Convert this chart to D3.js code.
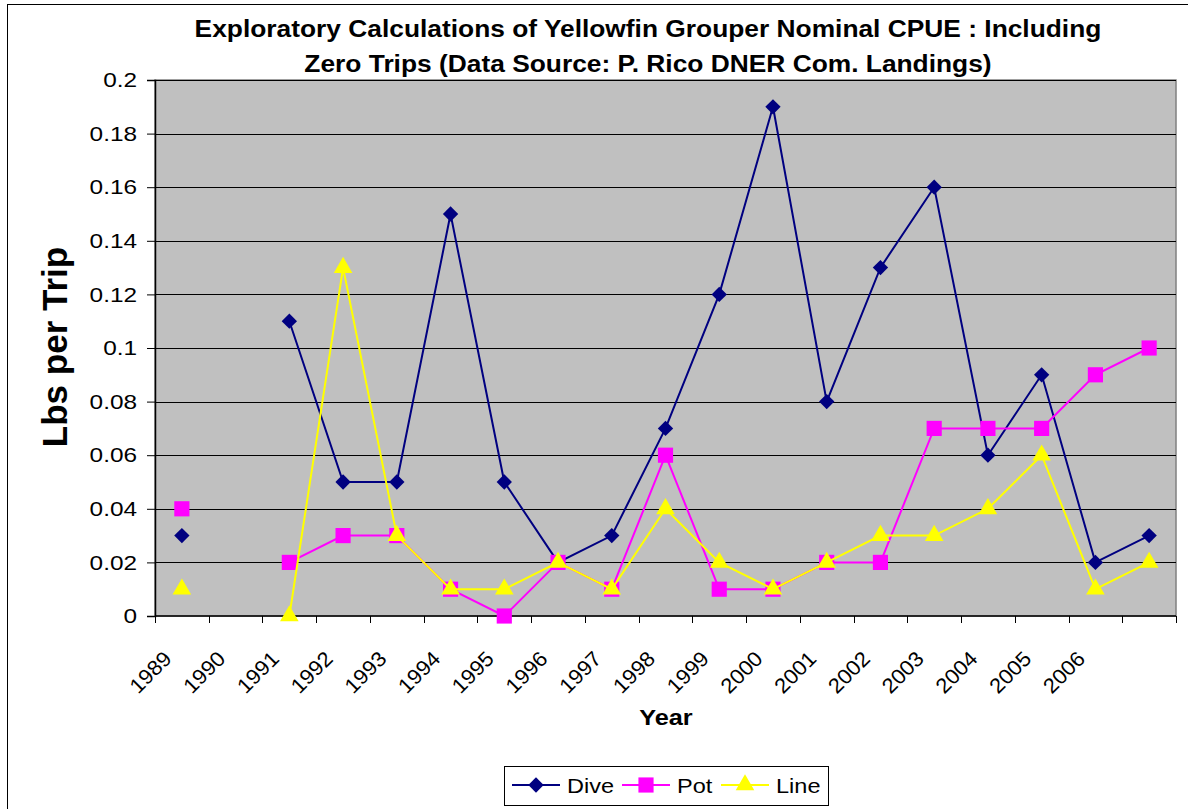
<!DOCTYPE html>
<html>
<head>
<meta charset="utf-8">
<script src="https://cdn.jsdelivr.net/npm/d3@7"></script>
<style>
  html, body { margin: 0; padding: 0; background: #fff; }
  svg { display: block; font-family: Arial, "Liberation Sans", sans-serif; }
</style>
</head>
<body>
<svg id="chart" width="1188" height="809"></svg>
<script>
// Nominal CPUE (lbs per trip) by gear, one slot per year; null = no value
const years = ["1989","1990","1991","1992","1993","1994","1995","1996","1997","1998",
               "1999","2000","2001","2002","2003","2004","2005","2006","2007"];
const tickLabels = ["1989","1990","1991","1992","1993","1994","1995","1996","1997",
                    "1998","1999","2000","2001","2002","2003","2004","2005","2006",""];
const dive = [0.03, null, 0.11, 0.05, 0.05, 0.15, 0.05, 0.02, 0.03, 0.07,
              0.12, 0.19, 0.08, 0.13, 0.16, 0.06, 0.09, 0.02, 0.03];
const pot  = [0.04, null, 0.02, 0.03, 0.03, 0.01, 0.00, 0.02, 0.01, 0.06,
              0.01, 0.01, 0.02, 0.02, 0.07, 0.07, 0.07, 0.09, 0.10];
const line = [0.01, null, 0.00, 0.13, 0.03, 0.01, 0.01, 0.02, 0.01, 0.04,
              0.02, 0.01, 0.02, 0.03, 0.03, 0.04, 0.06, 0.01, 0.02];
const yTicks = [0, 0.02, 0.04, 0.06, 0.08, 0.1, 0.12, 0.14, 0.16, 0.18, 0.2];

const seriesList = [
  { name: "Dive", values: dive, color: "#000080", symbol: d3.symbolDiamond2, size: 150 },
  { name: "Pot",  values: pot,  color: "#FF00FF", symbol: d3.symbolSquare,   size: 230 },
  { name: "Line", values: line, color: "#FFFF00", symbol: d3.symbolTriangle, size: 150 }
];

// widen horizontal text a little so glyphs render with a broad face
function widen(sel, factor) {
  sel.each(function () {
    const len = this.getComputedTextLength();
    if (len > 0) {
      this.setAttribute("textLength", len * factor);
      this.setAttribute("lengthAdjust", "spacingAndGlyphs");
    }
  });
}

const svg = d3.select("#chart");
const plot = { left: 155, top: 80, right: 1176, bottom: 616 };

// outer chart frame
svg.append("rect")
  .attr("x", 7.5).attr("y", 4.5).attr("width", 1300).attr("height", 1000)
  .attr("fill", "#fff").attr("stroke", "#000").attr("stroke-width", 1);

const x = d3.scaleBand().domain(years).range([plot.left, plot.right]).padding(0);
const y = d3.scaleLinear().domain([0, 0.2]).range([plot.bottom, plot.top]);

// plot area
svg.append("rect")
  .attr("x", plot.left).attr("y", plot.top)
  .attr("width", plot.right - plot.left).attr("height", plot.bottom - plot.top)
  .attr("fill", "#C0C0C0").attr("stroke", "#808080").attr("stroke-width", 1.5);

// horizontal gridlines
svg.append("g").selectAll("line").data(yTicks.filter(d => d > 0)).join("line")
  .attr("x1", plot.left).attr("x2", plot.right)
  .attr("y1", d => Math.round(y(d)) + 0.5).attr("y2", d => Math.round(y(d)) + 0.5)
  .attr("stroke", "#000").attr("stroke-width", 1);

// y axis
const yAxis = svg.append("g")
  .attr("transform", `translate(${plot.left},0)`)
  .call(d3.axisLeft(y).tickValues(yTicks).tickSize(8).tickPadding(10)
        .tickFormat(d => d3.format("")(+d.toFixed(2))));
yAxis.select(".domain").attr("stroke", "#000").attr("stroke-width", 1.5);
yAxis.selectAll(".tick line").attr("stroke", "#000");
yAxis.selectAll(".tick text").attr("font-size", 21).attr("fill", "#000")
  .attr("font-family", "Arial, 'Liberation Sans', sans-serif");
widen(yAxis.selectAll(".tick text"), 1.16);

// x axis: ticks at category boundaries
const bounds = years.map(d => x(d)).concat([plot.right]);
const xAxisG = svg.append("g");
xAxisG.append("line")
  .attr("x1", plot.left).attr("x2", plot.right)
  .attr("y1", plot.bottom).attr("y2", plot.bottom)
  .attr("stroke", "#000").attr("stroke-width", 1.5);
xAxisG.selectAll("line.tk").data(bounds).join("line").attr("class", "tk")
  .attr("x1", d => Math.round(d) + 0.5).attr("x2", d => Math.round(d) + 0.5)
  .attr("y1", plot.bottom).attr("y2", plot.bottom + 7)
  .attr("stroke", "#000").attr("stroke-width", 1);
xAxisG.selectAll("text").data(years).join("text")
  .attr("transform", d => `translate(${x(d) + x.bandwidth() / 2 - 9},660) rotate(-45)`)
  .attr("text-anchor", "end")
  .attr("font-size", 21).attr("fill", "#000")
  .text((d, i) => tickLabels[i]);
widen(xAxisG.selectAll("text"), 1.05);

// series lines and markers
seriesList.forEach(s => {
  const pts = years.map((yr, i) => ({ yr, v: s.values[i] }));
  const lineGen = d3.line()
    .defined(d => d.v !== null)
    .x(d => x(d.yr) + x.bandwidth() / 2)
    .y(d => y(d.v));
  svg.append("path").datum(pts)
    .attr("d", lineGen)
    .attr("fill", "none").attr("stroke", s.color).attr("stroke-width", 2);
  svg.append("g").selectAll("path").data(pts.filter(d => d.v !== null)).join("path")
    .attr("transform", d => `translate(${x(d.yr) + x.bandwidth() / 2},${y(d.v)})`)
    .attr("d", d3.symbol().type(s.symbol).size(s.size))
    .attr("fill", s.color);
});

// title (two lines)
const titleLines = [
  "Exploratory Calculations of Yellowfin Grouper Nominal CPUE : Including",
  "Zero Trips (Data Source: P. Rico DNER Com. Landings)"
];
const titleText = svg.append("g").selectAll("text").data(titleLines).join("text")
  .attr("x", 648).attr("y", (d, i) => 37 + i * 35)
  .attr("text-anchor", "middle")
  .attr("font-weight", "bold").attr("font-size", 23).attr("fill", "#000")
  .text(d => d);
widen(titleText, 1.145);

// axis titles
svg.append("text")
  .attr("transform", "translate(67,347) rotate(-90)")
  .attr("text-anchor", "middle").attr("font-weight", "bold")
  .attr("font-size", 35).attr("fill", "#000")
  .text("Lbs per Trip");
const yearLabel = svg.append("text")
  .attr("x", 666).attr("y", 725).attr("text-anchor", "middle")
  .attr("font-weight", "bold").attr("font-size", 22).attr("fill", "#000")
  .text("Year");
widen(yearLabel, 1.15);

// legend
const legend = svg.append("g");
legend.append("rect")
  .attr("x", 504.5).attr("y", 766.5).attr("width", 324).attr("height", 39)
  .attr("fill", "#fff").attr("stroke", "#000").attr("stroke-width", 1);
const legendX = [512, 622, 721];
seriesList.forEach((s, i) => {
  const lx = legendX[i], ly = 785;
  legend.append("line")
    .attr("x1", lx).attr("x2", lx + 48).attr("y1", ly).attr("y2", ly)
    .attr("stroke", s.color).attr("stroke-width", 2);
  legend.append("path")
    .attr("transform", `translate(${lx + 24},${ly})`)
    .attr("d", d3.symbol().type(s.symbol).size(s.size))
    .attr("fill", s.color);
  const t = legend.append("text")
    .attr("x", lx + 55).attr("y", ly + 8)
    .attr("font-size", 21).attr("fill", "#000")
    .text(s.name);
  widen(t, 1.12);
});
</script>
</body>
</html>
